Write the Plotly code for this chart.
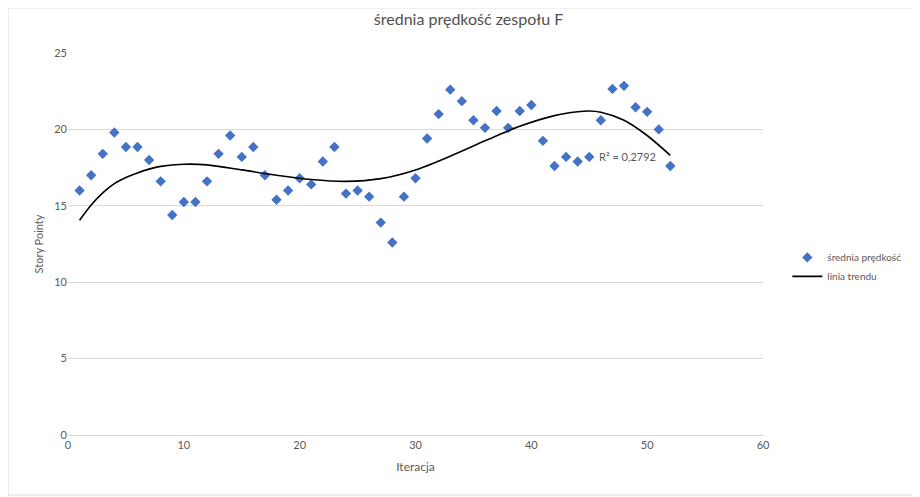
import plotly.graph_objects as go

iteracja = list(range(1, 53))
predkosc = [16.0, 17.0, 18.4, 19.8, 18.85, 18.85, 18.0, 16.6, 14.4, 15.25,
            15.25, 16.6, 18.4, 19.6, 18.2, 18.85, 17.0, 15.4, 16.0, 16.8,
            16.4, 17.9, 18.85, 15.8, 16.0, 15.6, 13.9, 12.6, 15.6, 16.8,
            19.4, 21.0, 22.6, 21.85, 20.6, 20.1, 21.2, 20.1, 21.2, 21.6,
            19.25, 17.6, 18.2, 17.9, 18.2, 20.6, 22.65, 22.85, 21.45, 21.15,
            20.0, 17.6]
trend_x = [1, 2, 3, 4, 5, 6, 7, 8, 10, 12, 15, 18, 21, 24, 27, 30, 33, 36, 39, 42,
           44, 45, 46, 48, 50, 52]
trend_y = [14.05, 15.05, 15.85, 16.45, 16.85, 17.15, 17.4, 17.58, 17.72, 17.68, 17.35,
           17.0, 16.72, 16.6, 16.78, 17.35, 18.25, 19.25, 20.2, 20.9, 21.15, 21.2,
           21.12, 20.6, 19.6, 18.3]
x_ticks = [0, 10, 20, 30, 40, 50, 60]
y_ticks = [0, 5, 10, 15, 20, 25]
r2_label = "R² = 0,2792"

font = "Lato, Open Sans, sans-serif"
grey = "#595959"

fig = go.Figure()
fig.add_trace(go.Scatter(x=iteracja, y=predkosc, mode="markers", name="średnia prędkość",
                         marker=dict(symbol="diamond", size=8, color="#4472C4")))
fig.add_trace(go.Scatter(x=trend_x, y=trend_y, mode="lines", name="linia trendu",
                         line=dict(color="#000000", width=1.6, shape="spline", smoothing=0.8)))
fig.add_annotation(x=45.7, y=18.2, text=r2_label, showarrow=False, xanchor="left",
                   font=dict(size=11, color=grey, family=font))
fig.add_shape(type="rect", xref="paper", yref="paper", x0=-0.0863, x1=1.216, y0=-0.157, y1=1.118,
              line=dict(color="#D9D9D9", width=1))

fig.update_layout(
    width=912, height=489,
    margin=dict(l=60, r=157, t=45, b=62, autoexpand=False),
    paper_bgcolor="white", plot_bgcolor="white",
    font=dict(family=font, color=grey, size=11),
    title=dict(text="średnia prędkość zespołu F", x=0.505, xanchor="center", y=0.988,
               font=dict(size=16, color="#505050", family=font)),
    showlegend=True,
    legend=dict(x=1.035, y=0.44, xanchor="left", yanchor="middle",
                font=dict(size=10, color=grey, family=font)),
    xaxis=dict(range=[0, 60], tickvals=x_ticks, showgrid=False, zeroline=False,
               showline=True, linecolor="#D9D9D9", linewidth=1, ticks="",
               title=dict(text="Iteracja", font=dict(size=12, color=grey), standoff=12)),
    yaxis=dict(range=[0, 25], tickvals=y_ticks, showgrid=True, gridcolor="#D9D9D9",
               zeroline=False, showline=False, ticks="",
               title=dict(text="Story Pointy", font=dict(size=11, color=grey), standoff=8)),
)
fig.write_html("out.html")
